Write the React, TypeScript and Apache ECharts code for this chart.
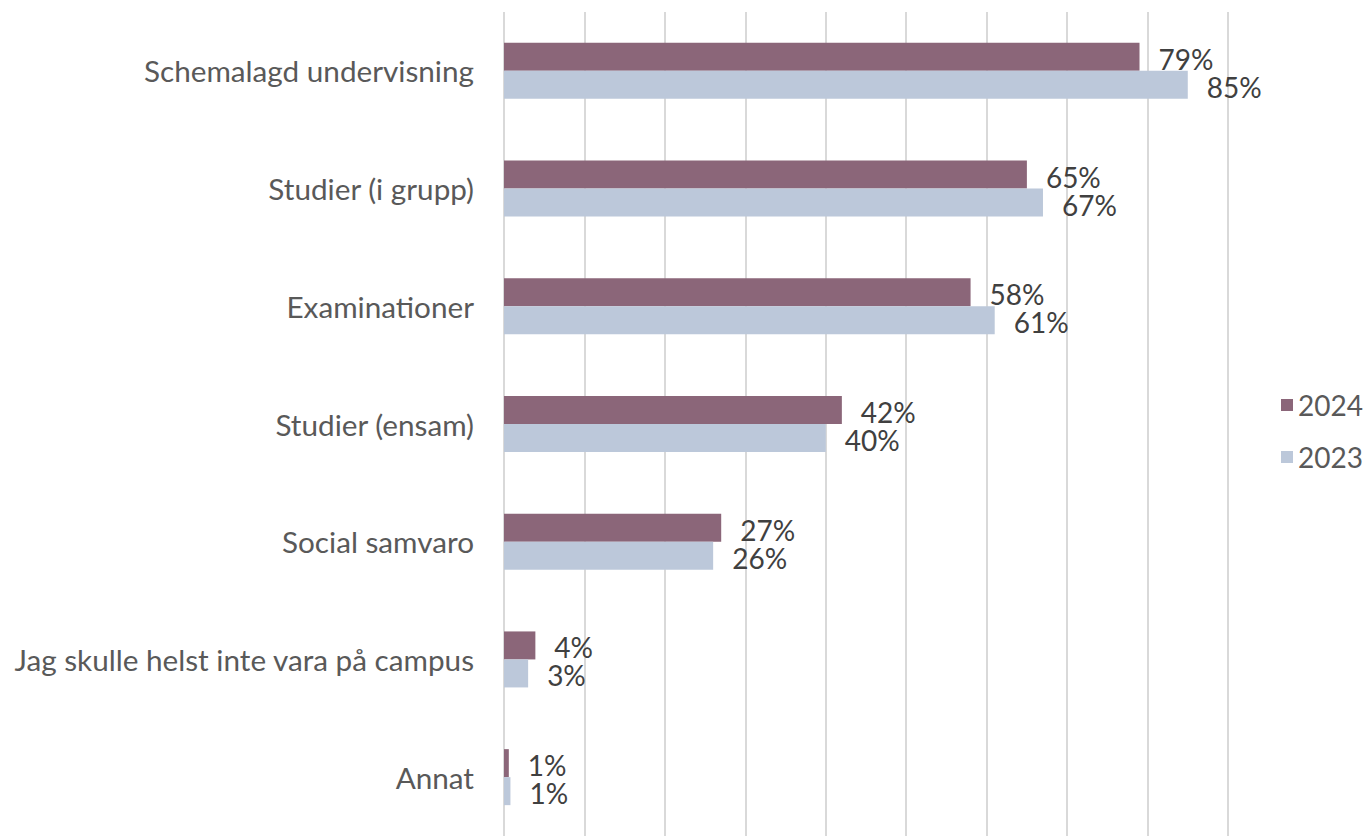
import React, { useEffect, useRef } from "react";
import * as echarts from "echarts";

const categories = [
  "Schemalagd undervisning",
  "Studier (i grupp)",
  "Examinationer",
  "Studier (ensam)",
  "Social samvaro",
  "Jag skulle helst inte vara på campus",
  "Annat",
];
const values2024 = [79, 65, 58, 42, 27, 3.9, 0.6];
const values2023 = [85, 67, 61, 40, 26, 3, 0.8];
const seriesNames = ["2024", "2023"];

const FONT = "Lato";

export default function App() {
  const ref = useRef<HTMLDivElement>(null);
  useEffect(() => {
    if (!ref.current) return;
    const chart = echarts.init(ref.current, undefined, { renderer: "svg" });
    const label = {
      show: true,
      position: "right",
      distance: 19,
      fontFamily: FONT,
      fontSize: 28,
      lineHeight: 26,
      color: "#404040",
      offset: [0, 2],
      formatter: (p: any) => Math.round(p.value) + "%",
    };
    chart.setOption({
      animation: false,
      backgroundColor: "#ffffff",
      textStyle: { fontFamily: FONT },
      grid: { left: 504, top: 12, width: 724, height: 828, containLabel: false },
      legend: {
        orient: "vertical",
        left: 1276,
        top: 385,
        icon: "rect",
        itemWidth: 12,
        itemHeight: 12,
        itemGap: 22,
        textStyle: { fontFamily: FONT, fontSize: 28, color: "#595959", lineHeight: 30 },
        data: seriesNames,
      },
      xAxis: {
        type: "value",
        min: 0,
        max: 90,
        interval: 10,
        axisLabel: { show: false },
        axisLine: { show: false },
        axisTick: { show: false },
        splitLine: { show: true, lineStyle: { color: "#d9d9d9", width: 2 } },
      },
      yAxis: {
        type: "category",
        inverse: true,
        data: categories,
        axisLine: { show: false },
        axisTick: { show: false },
        axisLabel: { margin: 30, fontFamily: FONT, fontSize: 29.7, color: "#595959" },
      },
      series: [
        {
          name: seriesNames[0],
          type: "bar",
          data: values2024,
          barWidth: 28,
          barGap: "0%",
          itemStyle: { color: "#8b6679" },
          label,
        },
        {
          name: seriesNames[1],
          type: "bar",
          data: values2023,
          barWidth: 28,
          barGap: "0%",
          itemStyle: { color: "#bcc8da" },
          label,
        },
      ],
    });
    return () => chart.dispose();
  }, []);
  return (
    <div
      ref={ref}
      style={{ position: "absolute", left: 0, top: 0, width: 1368, height: 836 }}
    />
  );
}
